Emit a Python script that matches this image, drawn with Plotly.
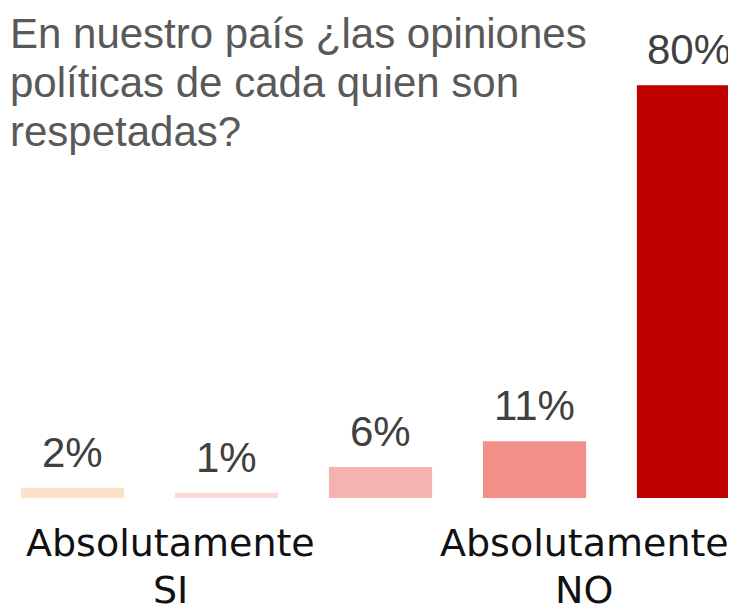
import plotly.graph_objects as go

categories = ["Absolutamente SI", "Cat 2", "Cat 3", "Cat 4", "Absolutamente NO"]
values = [2, 1, 6, 11, 80]
value_labels = ["2%", "1%", "6%", "11%", "80%"]
bar_colors = ["#FCE2CB", "#F9D8D6", "#F5B3AF", "#F18F88", "#C00000"]
title_lines = ["En nuestro país ¿las opiniones", "políticas de cada quien son", "respetadas?"]
end_labels_left = ["Absolutamente", "SI"]
end_labels_right = ["Absolutamente", "NO"]

# page body has an 8px margin, so the figure sits at (8, 8) in the window
W, H = 728, 597
ML, MR, MT, MB = 0, 0, 0, 107
plot_h = H - MT - MB

fig = go.Figure()
fig.add_trace(go.Bar(
    x=categories,
    y=values,
    marker=dict(color=bar_colors, line=dict(width=0)),
    width=0.67,
    hoverinfo="skip",
))

# value labels above bars
for c, v, t in zip(categories, values, value_labels):
    fig.add_annotation(
        x=c, y=v, xref="x", yref="y", text=t, showarrow=False,
        yanchor="bottom", xanchor="center", yshift=10,
        font=dict(family="Liberation Sans, Arial, sans-serif", size=42, color="#404040"),
    )

def py_to_paper(py):
    return (MT + plot_h - py) / plot_h

# title lines (pixel centers in figure coordinates)
title_centers = [25.8, 74.8, 123.8]
for line, cy in zip(title_lines, title_centers):
    fig.add_annotation(
        x=0, y=py_to_paper(cy), xref="paper", yref="paper", text=line,
        showarrow=False, xanchor="left", yanchor="middle", xshift=0,
        font=dict(family="Liberation Sans, Arial, sans-serif", size=42, color="#595959"),
    )

# end labels
label_font = dict(family="DejaVu Sans, sans-serif", size=38, color="#111111")
label_centers = [534.9, 581.9]
for txt, cy in zip(end_labels_left, label_centers):
    fig.add_annotation(
        x=162 / W, y=py_to_paper(cy), xref="paper", yref="paper", text=txt,
        showarrow=False, xanchor="center", yanchor="middle", borderpad=0,
        font=label_font,
    )
for txt, cy in zip(end_labels_right, label_centers):
    fig.add_annotation(
        x=576 / W, y=py_to_paper(cy), xref="paper", yref="paper", text=txt,
        showarrow=False, xanchor="center", yanchor="middle", borderpad=0,
        font=label_font,
    )

fig.update_xaxes(
    range=[-0.4188, 4.3084], showticklabels=False, showgrid=False,
    zeroline=False, showline=False, ticks="",
)
fig.update_yaxes(
    range=[0, plot_h / 5.16], showticklabels=False, showgrid=False,
    zeroline=False, showline=False, ticks="",
)
fig.update_layout(
    width=W, height=H,
    margin=dict(l=ML, r=MR, t=MT, b=MB, pad=0),
    plot_bgcolor="white", paper_bgcolor="white",
    showlegend=False,
    bargap=0.33,
)

fig.write_html("out.html", config={"displayModeBar": False})
